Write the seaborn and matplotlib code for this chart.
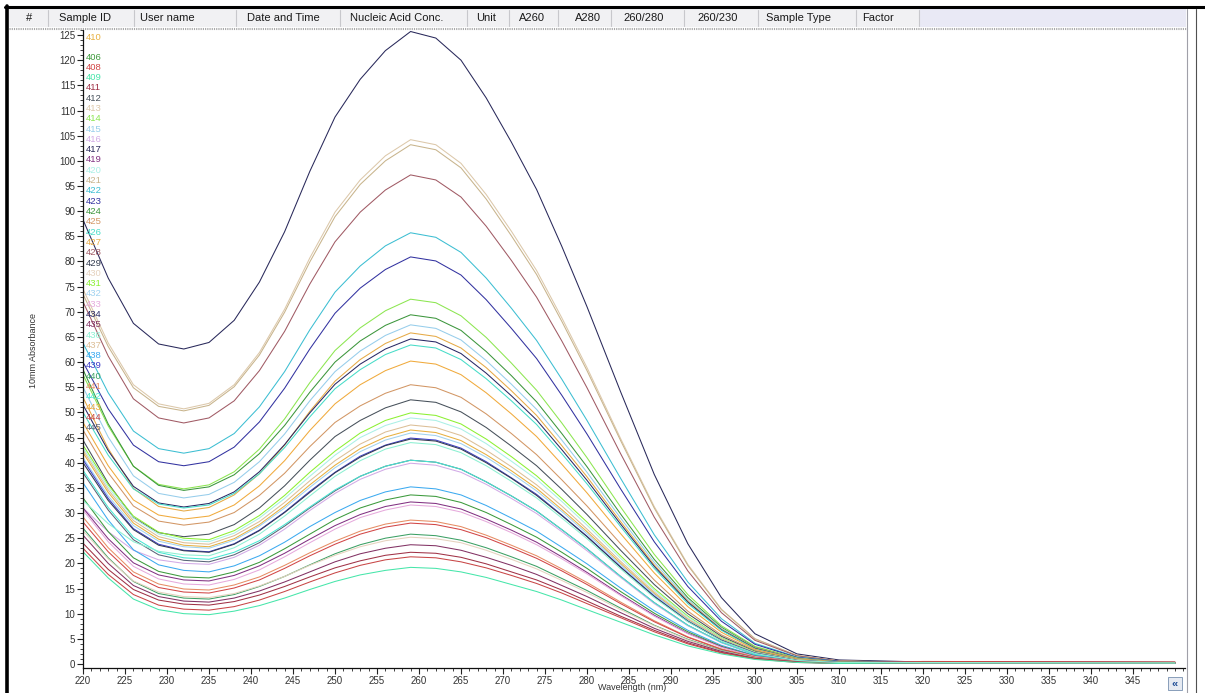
import numpy as np
import pandas as pd
import matplotlib
matplotlib.use("Agg")
import matplotlib.pyplot as plt
from matplotlib.patches import Rectangle
from matplotlib.lines import Line2D
from matplotlib.ticker import MultipleLocator
import seaborn as sns

# ---------------- data ----------------
WAVELENGTHS = [220, 223, 226, 229, 232, 235, 238, 241, 244, 247, 250, 253, 256, 259,
               262, 265, 268, 271, 274, 277, 280, 284, 288, 292, 296, 300, 305, 310, 320, 350]

SAMPLE_IDS = ["410", "406", "408", "409", "411", "412", "413", "414", "415", "416",
              "417", "419", "420", "421", "422", "423", "424", "425", "426", "427",
              "428", "429", "430", "431", "432", "433", "434", "435", "436", "437",
              "438", "439", "440", "441", "442", "443", "444", "445"]
SAMPLE_COLORS = ["#E8B040", "#3C9A3C", "#D24646", "#46E6AA", "#A03246", "#46505A",
                 "#DCC8AA", "#8CE650", "#96CDEB", "#D2AAE6", "#28285A", "#823282",
                 "#AAF0E6", "#C8B48C", "#3CBED2", "#3232A0", "#3C963C", "#D29664",
                 "#46DCC8", "#E6AA46", "#A05A64", "#323C50", "#E6D2BE", "#8CF032",
                 "#A0D2F0", "#E6AADC", "#282864", "#823264", "#8CF0D2", "#DCBE96",
                 "#3CAAF0", "#3C3CC8", "#3CA064", "#E68C64", "#46E6D2", "#F0AA3C",
                 "#C84646", "#5A6478"]

s417 = [88.3, 76.7, 67.7, 63.6, 62.6, 63.9, 68.3, 75.9, 85.9, 97.9, 108.7, 116.2, 121.9, 125.7,
        124.4, 120.0, 112.5, 103.7, 94.3, 83.0, 71.0, 54.1, 37.7, 23.9, 13.2, 6.0, 2.0, 0.8, 0.4, 0.3]
s413 = [74.5, 63.8, 55.5, 51.7, 50.7, 51.8, 55.5, 61.9, 70.5, 80.7, 89.8, 96.2, 101.0, 104.2,
        103.2, 99.5, 93.3, 86.0, 78.2, 68.8, 58.9, 44.8, 31.3, 19.8, 10.9, 5.0, 1.7, 0.6, 0.3, 0.2]
s421 = [73.5, 63.1, 54.9, 51.2, 50.3, 51.4, 55.1, 61.4, 69.9, 79.9, 88.9, 95.3, 100.0, 103.2,
        102.2, 98.6, 92.4, 85.1, 77.4, 68.1, 58.3, 44.4, 31.0, 19.6, 10.8, 5.0, 1.7, 0.6, 0.3, 0.3]
s428 = [72.0, 61.2, 52.7, 48.9, 47.9, 48.9, 52.3, 58.3, 66.1, 75.5, 83.9, 89.8, 94.2, 97.2,
        96.2, 92.8, 87.0, 80.2, 72.9, 64.2, 54.9, 41.8, 29.2, 18.5, 10.2, 4.7, 1.6, 0.6, 0.3, 0.2]
s422 = [63.8, 53.9, 46.3, 42.8, 41.9, 42.8, 45.8, 51.1, 58.1, 66.4, 73.9, 79.1, 83.1, 85.7,
        84.8, 81.8, 76.7, 70.7, 64.3, 56.6, 48.4, 36.9, 25.7, 16.3, 9.0, 4.1, 1.4, 0.5, 0.3, 0.2]
s423 = [60.0, 50.7, 43.5, 40.2, 39.4, 40.2, 43.1, 48.1, 54.8, 62.6, 69.7, 74.7, 78.4, 80.9,
        80.1, 77.3, 72.4, 66.7, 60.7, 53.4, 45.7, 34.8, 24.3, 15.4, 8.5, 3.9, 1.3, 0.5, 0.2, 0.2]
s414 = [57.5, 47.3, 39.3, 35.7, 34.8, 35.6, 38.2, 42.7, 48.7, 55.9, 62.3, 66.8, 70.2, 72.5,
        71.8, 69.2, 64.9, 59.8, 54.4, 47.9, 41.0, 31.2, 21.8, 13.8, 7.6, 3.5, 1.2, 0.4, 0.3, 0.2]
s424 = [58.5, 47.7, 39.3, 35.5, 34.5, 35.2, 37.6, 41.8, 47.4, 54.0, 60.0, 64.2, 67.3, 69.4,
        68.7, 66.3, 62.1, 57.3, 52.1, 45.8, 39.2, 29.8, 20.8, 13.2, 7.3, 3.3, 1.1, 0.4, 0.3, 0.2]
s415 = [55.0, 45.1, 37.4, 33.9, 33.0, 33.7, 36.1, 40.2, 45.7, 52.3, 58.1, 62.2, 65.3, 67.4,
        66.7, 64.4, 60.3, 55.6, 50.6, 44.5, 38.1, 29.0, 20.2, 12.8, 7.1, 3.2, 1.1, 0.4, 0.3, 0.2]
s427 = [53.0, 42.8, 34.9, 31.3, 30.4, 31.1, 33.6, 37.8, 43.5, 50.2, 56.2, 60.5, 63.7, 65.8,
        65.1, 62.8, 58.9, 54.3, 49.4, 43.4, 37.2, 28.3, 19.7, 12.5, 6.9, 3.2, 1.1, 0.4, 0.2, 0.2]
s434 = [51.5, 42.4, 35.3, 32.0, 31.2, 31.9, 34.2, 38.2, 43.6, 49.9, 55.6, 59.6, 62.6, 64.6,
        64.0, 61.7, 57.8, 53.3, 48.5, 42.6, 36.5, 27.8, 19.4, 12.3, 6.8, 3.1, 1.0, 0.4, 0.3, 0.3]
s426 = [50.0, 41.5, 34.8, 31.8, 31.0, 31.6, 33.9, 37.8, 43.0, 49.1, 54.7, 58.5, 61.5, 63.4,
        62.8, 60.5, 56.7, 52.3, 47.6, 41.8, 35.8, 27.3, 19.0, 12.0, 6.7, 3.0, 1.0, 0.4, 0.2, 0.2]
s443 = [48.0, 39.4, 32.6, 29.6, 28.8, 29.4, 31.6, 35.4, 40.4, 46.4, 51.7, 55.5, 58.3, 60.2,
        59.6, 57.5, 53.9, 49.7, 45.2, 39.7, 34.0, 25.9, 18.1, 11.4, 6.3, 2.9, 1.0, 0.4, 0.3, 0.2]
s425 = [46.5, 38.0, 31.4, 28.4, 27.6, 28.2, 30.1, 33.5, 37.9, 43.2, 48.0, 51.3, 53.8, 55.5,
        54.9, 53.0, 49.7, 45.8, 41.6, 36.6, 31.4, 23.9, 16.7, 10.5, 5.8, 2.7, 0.9, 0.3, 0.2, 0.2]
s412 = [44.5, 35.9, 29.1, 26.1, 25.3, 25.8, 27.7, 31.0, 35.4, 40.5, 45.2, 48.4, 50.9, 52.5,
        52.0, 50.1, 47.0, 43.3, 39.4, 34.7, 29.7, 22.6, 15.8, 10.0, 5.5, 2.5, 0.8, 0.3, 0.3, 0.3]
s431 = [43.5, 35.6, 29.4, 26.2, 25.0, 24.7, 26.5, 29.5, 33.5, 38.1, 42.3, 45.9, 48.4, 49.9,
        49.4, 47.7, 44.7, 41.2, 37.4, 32.9, 28.2, 21.5, 15.0, 9.5, 5.2, 2.4, 0.8, 0.3, 0.2, 0.2]
s420 = [43.0, 35.1, 29.0, 25.8, 24.6, 24.3, 26.0, 29.0, 32.9, 37.3, 41.5, 45.0, 47.4, 48.9,
        48.4, 46.7, 43.8, 40.3, 36.7, 32.3, 27.6, 21.0, 14.7, 9.3, 5.1, 2.3, 0.8, 0.3, 0.3, 0.2]
s437 = [42.5, 34.6, 28.5, 25.3, 24.1, 23.8, 25.5, 28.3, 32.1, 36.4, 40.4, 43.7, 46.1, 47.5,
        47.0, 45.4, 42.5, 39.2, 35.6, 31.4, 26.8, 20.4, 14.3, 9.0, 5.0, 2.3, 0.8, 0.3, 0.2, 0.2]
s410 = [42.0, 34.1, 28.0, 24.8, 23.6, 23.3, 24.9, 27.7, 31.4, 35.6, 39.5, 42.8, 45.1, 46.5,
        46.0, 44.4, 41.6, 38.4, 34.9, 30.7, 26.3, 20.0, 14.0, 8.8, 4.9, 2.2, 0.7, 0.3, 0.3, 0.3]
s432 = [41.0, 33.4, 27.5, 24.4, 23.3, 23.0, 24.6, 27.4, 31.0, 35.1, 39.0, 42.2, 44.5, 45.9,
        45.4, 43.8, 41.1, 37.9, 34.4, 30.3, 25.9, 19.7, 13.8, 8.7, 4.8, 2.2, 0.7, 0.3, 0.2, 0.2]
s439 = [40.6, 32.9, 26.9, 23.8, 22.6, 22.3, 23.9, 26.6, 30.2, 34.3, 38.1, 41.3, 43.5, 44.9,
        44.5, 42.9, 40.2, 37.0, 33.7, 29.6, 25.4, 19.3, 13.5, 8.5, 4.7, 2.2, 0.7, 0.3, 0.4, 0.3]
s429 = [40.0, 32.5, 26.7, 23.6, 22.5, 22.2, 23.8, 26.5, 30.1, 34.1, 38.0, 41.1, 43.4, 44.7,
        44.3, 42.7, 40.0, 36.9, 33.5, 29.5, 25.3, 19.2, 13.4, 8.5, 4.7, 2.1, 0.7, 0.3, 0.3, 0.2]
s445 = [38.0, 30.6, 24.7, 21.7, 20.6, 20.3, 21.7, 24.1, 27.4, 31.0, 34.4, 37.3, 39.3, 40.5,
        40.1, 38.7, 36.2, 33.4, 30.4, 26.7, 22.9, 17.4, 12.2, 7.7, 4.3, 1.9, 0.6, 0.2, 0.2, 0.2]
s416 = [31.0, 26.3, 22.6, 20.7, 20.0, 19.8, 21.2, 23.6, 26.8, 30.5, 33.9, 36.7, 38.7, 39.9,
        39.5, 38.1, 35.7, 32.9, 29.9, 26.3, 22.5, 17.2, 12.0, 7.6, 4.2, 1.9, 0.6, 0.2, 0.3, 0.2]
s442 = [38.5, 31.1, 25.2, 22.2, 21.1, 20.8, 22.2, 24.5, 27.7, 31.2, 34.6, 37.3, 39.3, 40.5,
        40.1, 38.7, 36.2, 33.4, 30.4, 26.7, 22.9, 17.4, 12.2, 7.7, 4.3, 1.9, 0.6, 0.2, 0.3, 0.3]
s438 = [36.0, 28.6, 22.7, 19.7, 18.6, 18.3, 19.5, 21.5, 24.2, 27.3, 30.1, 32.5, 34.2, 35.2,
        34.8, 33.6, 31.5, 29.0, 26.4, 23.2, 19.9, 15.1, 10.6, 6.7, 3.7, 1.7, 0.6, 0.2, 0.2, 0.2]
s406 = [33.0, 26.3, 21.1, 18.4, 17.3, 17.1, 18.3, 20.2, 22.9, 25.8, 28.7, 31.0, 32.6, 33.6,
        33.3, 32.1, 30.1, 27.7, 25.2, 22.2, 19.0, 14.4, 10.1, 6.4, 3.5, 1.6, 0.5, 0.2, 0.3, 0.2]
s419 = [31.0, 24.9, 20.1, 17.7, 16.7, 16.5, 17.6, 19.5, 22.0, 24.8, 27.5, 29.7, 31.3, 32.2,
        31.9, 30.8, 28.8, 26.6, 24.2, 21.3, 18.2, 13.8, 9.7, 6.1, 3.4, 1.5, 0.5, 0.2, 0.4, 0.3]
s433 = [30.6, 24.3, 19.4, 16.9, 15.9, 15.7, 16.8, 18.7, 21.3, 24.1, 26.8, 29.1, 30.6, 31.6,
        31.3, 30.2, 28.3, 26.1, 23.7, 20.9, 17.9, 13.6, 9.5, 6.0, 3.3, 1.5, 0.5, 0.2, 0.2, 0.2]
s441 = [29.2, 23.1, 18.3, 15.9, 14.9, 14.7, 15.7, 17.3, 19.6, 22.1, 24.4, 26.4, 27.8, 28.6,
        28.3, 27.3, 25.6, 23.6, 21.5, 18.9, 16.2, 12.3, 8.6, 5.4, 3.0, 1.4, 0.5, 0.2, 0.3, 0.3]
s408 = [28.2, 22.3, 17.6, 15.2, 14.3, 14.1, 15.1, 16.7, 19.0, 21.5, 23.8, 25.8, 27.2, 28.0,
        27.7, 26.7, 25.1, 23.1, 21.0, 18.5, 15.8, 12.0, 8.4, 5.3, 2.9, 1.3, 0.4, 0.2, 0.5, 0.4]
s440 = [27.0, 21.1, 16.4, 14.0, 13.1, 12.9, 13.8, 15.4, 17.4, 19.7, 21.9, 23.7, 25.0, 25.8,
        25.5, 24.6, 23.1, 21.3, 19.4, 17.0, 14.6, 11.1, 7.7, 4.9, 2.7, 1.2, 0.4, 0.2, 0.3, 0.2]
s430 = [26.5, 20.9, 16.5, 14.3, 13.4, 13.2, 14.0, 15.5, 17.4, 19.6, 21.6, 23.3, 24.5, 25.2,
        24.9, 24.1, 22.6, 20.8, 18.9, 16.6, 14.2, 10.8, 7.6, 4.8, 2.6, 1.2, 0.4, 0.2, 0.2, 0.2]
s435 = [25.6, 20.0, 15.6, 13.4, 12.5, 12.3, 13.1, 14.5, 16.3, 18.3, 20.3, 21.9, 23.0, 23.7,
        23.5, 22.6, 21.2, 19.6, 17.8, 15.6, 13.4, 10.2, 7.1, 4.5, 2.5, 1.1, 0.4, 0.1, 0.3, 0.2]
s411 = [24.0, 18.8, 14.8, 12.7, 11.9, 11.7, 12.4, 13.7, 15.4, 17.3, 19.1, 20.5, 21.6, 22.2,
        22.0, 21.2, 19.9, 18.3, 16.7, 14.7, 12.5, 9.5, 6.7, 4.2, 2.3, 1.1, 0.4, 0.1, 0.2, 0.2]
s444 = [23.0, 17.8, 13.8, 11.7, 10.9, 10.7, 11.4, 12.7, 14.4, 16.3, 18.1, 19.6, 20.7, 21.3,
        21.1, 20.3, 19.1, 17.6, 16.0, 14.1, 12.0, 9.2, 6.4, 4.0, 2.2, 1.0, 0.3, 0.1, 0.3, 0.3]
s409 = [22.3, 17.1, 12.9, 10.8, 10.0, 9.8, 10.5, 11.6, 13.1, 14.8, 16.4, 17.7, 18.6, 19.2,
        19.0, 18.3, 17.2, 15.8, 14.4, 12.7, 10.8, 8.3, 5.8, 3.6, 2.0, 0.9, 0.3, 0.1, 0.2, 0.2]
s436 = [32.5, 27.9, 24.3, 22.4, 21.7, 21.5, 23.1, 25.8, 29.4, 33.4, 37.3, 40.4, 42.7, 44.0,
        43.6, 42.0, 39.4, 36.3, 33.0, 29.0, 24.9, 18.9, 13.2, 8.4, 4.6, 2.1, 0.7, 0.3, 0.3, 0.2]

SPECTRA = {
    "417": s417, "413": s413, "421": s421, "428": s428, "422": s422, "423": s423,
    "414": s414, "424": s424, "415": s415, "427": s427, "434": s434, "426": s426,
    "443": s443, "425": s425, "412": s412, "431": s431, "420": s420, "437": s437,
    "410": s410, "432": s432, "439": s439, "429": s429, "445": s445, "416": s416,
    "442": s442, "438": s438, "406": s406, "419": s419, "433": s433, "441": s441,
    "408": s408, "440": s440, "430": s430, "435": s435, "411": s411, "444": s444,
    "409": s409, "436": s436,
}

HEADER_COLUMNS = ["#", "Sample ID", "User name", "Date and Time", "Nucleic Acid Conc.",
                  "Unit", "A260", "A280", "260/280", "260/230", "Sample Type", "Factor"]
HEADER_TEXT_X = [26, 59, 140, 247, 350, 476, 519, 575, 623, 697, 766, 862]
HEADER_SEPARATORS_X = [48, 134, 236, 340, 467, 509, 558, 611, 684, 758, 856, 919]

# ---------------- figure ----------------
W, H = 1205, 693
sns.set_theme(style="white")
plt.rcParams["font.family"] = ["Liberation Sans", "DejaVu Sans"]

fig = plt.figure(figsize=(W / 100, H / 100), dpi=100)
fig.patch.set_facecolor("white")


def fx(px):
    return px / W


def fy(py):
    return 1 - py / H


ax_left, ax_right, ax_top, ax_bottom = 83, 1185, 30, 668
ax = fig.add_axes([fx(ax_left), fy(ax_bottom), (ax_right - ax_left) / W, (ax_bottom - ax_top) / H])
ax.set_facecolor("white")

rows = []
for sid, vals in SPECTRA.items():
    for wl, v in zip(WAVELENGTHS, vals):
        rows.append({"sample": sid, "wavelength": wl, "absorbance": v})
df = pd.DataFrame(rows)
palette = dict(zip(SAMPLE_IDS, SAMPLE_COLORS))

sns.lineplot(data=df, x="wavelength", y="absorbance", hue="sample", palette=palette,
             estimator=None, sort=True, legend=False, linewidth=0.75, ax=ax)

ax.set_xlim(220, 220 + (ax_right - ax_left) / 8.4)
ax.set_ylim(-0.8, 126.0)
ax.xaxis.set_major_locator(MultipleLocator(5))
ax.xaxis.set_minor_locator(MultipleLocator(1))
ax.yaxis.set_major_locator(MultipleLocator(5))
ax.yaxis.set_minor_locator(MultipleLocator(1))
ax.set_xticks(np.arange(220, 350, 5))
ax.tick_params(axis="both", which="major", direction="out", length=4, width=0.8,
               colors="#222222", labelsize=7, pad=1.5, labelcolor="#333333")
ax.tick_params(axis="both", which="minor", direction="out", length=2, width=0.6, colors="#222222")
ax.tick_params(bottom=True, left=True, which="both")
for side in ["top", "right"]:
    ax.spines[side].set_visible(False)
for side in ["left", "bottom"]:
    ax.spines[side].set_color("#111111")
    ax.spines[side].set_linewidth(0.9)
ax.set_xlabel("")
ax.set_ylabel("")

fig.text(fx(33), fy(350), "10mm Absorbance", rotation=90, ha="center", va="center",
         fontsize=6.5, color="#333333")
fig.text(fx(632), fy(688), "Wavelength (nm)", ha="center", va="center",
         fontsize=6.5, color="#333333")

# sample id list at the left of the plot
label_y = [37] + [57 + 10.3 * i for i in range(len(SAMPLE_IDS) - 1)]
for sid, col, py in zip(SAMPLE_IDS, SAMPLE_COLORS, label_y):
    fig.text(fx(86), fy(py), sid, ha="left", va="center", fontsize=6.8, color=col)

# ---------------- window chrome ----------------
# header bar
fig.patches.append(Rectangle((fx(9), fy(27)), fx(1186 - 9), (27 - 9) / H,
                             transform=fig.transFigure, facecolor="#F1F1F3",
                             edgecolor="none", zorder=0))
fig.patches.append(Rectangle((fx(919), fy(27)), fx(1186 - 919), (27 - 9) / H,
                             transform=fig.transFigure, facecolor="#E9E9F5",
                             edgecolor="none", zorder=0))
for sx in HEADER_SEPARATORS_X:
    fig.add_artist(Line2D([fx(sx), fx(sx)], [fy(10), fy(26)], color="#C8C8CC", lw=0.8))
for txt, tx in zip(HEADER_COLUMNS, HEADER_TEXT_X):
    fig.text(fx(tx), fy(18), txt, ha="left", va="center", fontsize=8, color="#1A1A1A")
# dotted double line under header
fig.add_artist(Line2D([fx(9), fx(1186)], [fy(27.5), fy(27.5)], color="#A8A8A8", lw=0.8,
                      linestyle=(0, (1, 1))))
fig.add_artist(Line2D([fx(9), fx(1186)], [fy(29), fy(29)], color="#A8A8A8", lw=0.8,
                      linestyle=(0, (1, 1))))

# black borders top and left
fig.add_artist(Line2D([fx(5), fx(1205)], [fy(6.5), fy(6.5)], color="black", lw=2.2))
fig.add_artist(Line2D([fx(7.5), fx(7.5)], [fy(5.5), fy(693)], color="black", lw=2.6))
# right frame of the chart window
fig.add_artist(Line2D([fx(1187), fx(1187)], [fy(9), fy(693)], color="#A0A0A8", lw=0.8))
fig.add_artist(Line2D([fx(1196), fx(1196)], [fy(9), fy(693)], color="#505050", lw=0.8))

# small "<<" button at bottom right
fig.patches.append(Rectangle((fx(1168), fy(690)), fx(14), 13 / H, transform=fig.transFigure,
                             facecolor="#E6EAF2", edgecolor="#7890B0", lw=0.6, zorder=3))
fig.text(fx(1175), fy(683.5), "\u00ab", ha="center", va="center", fontsize=8,
         color="#1E4C96", fontweight="bold", zorder=4)

fig.savefig("out.png", dpi=100, facecolor="white")
